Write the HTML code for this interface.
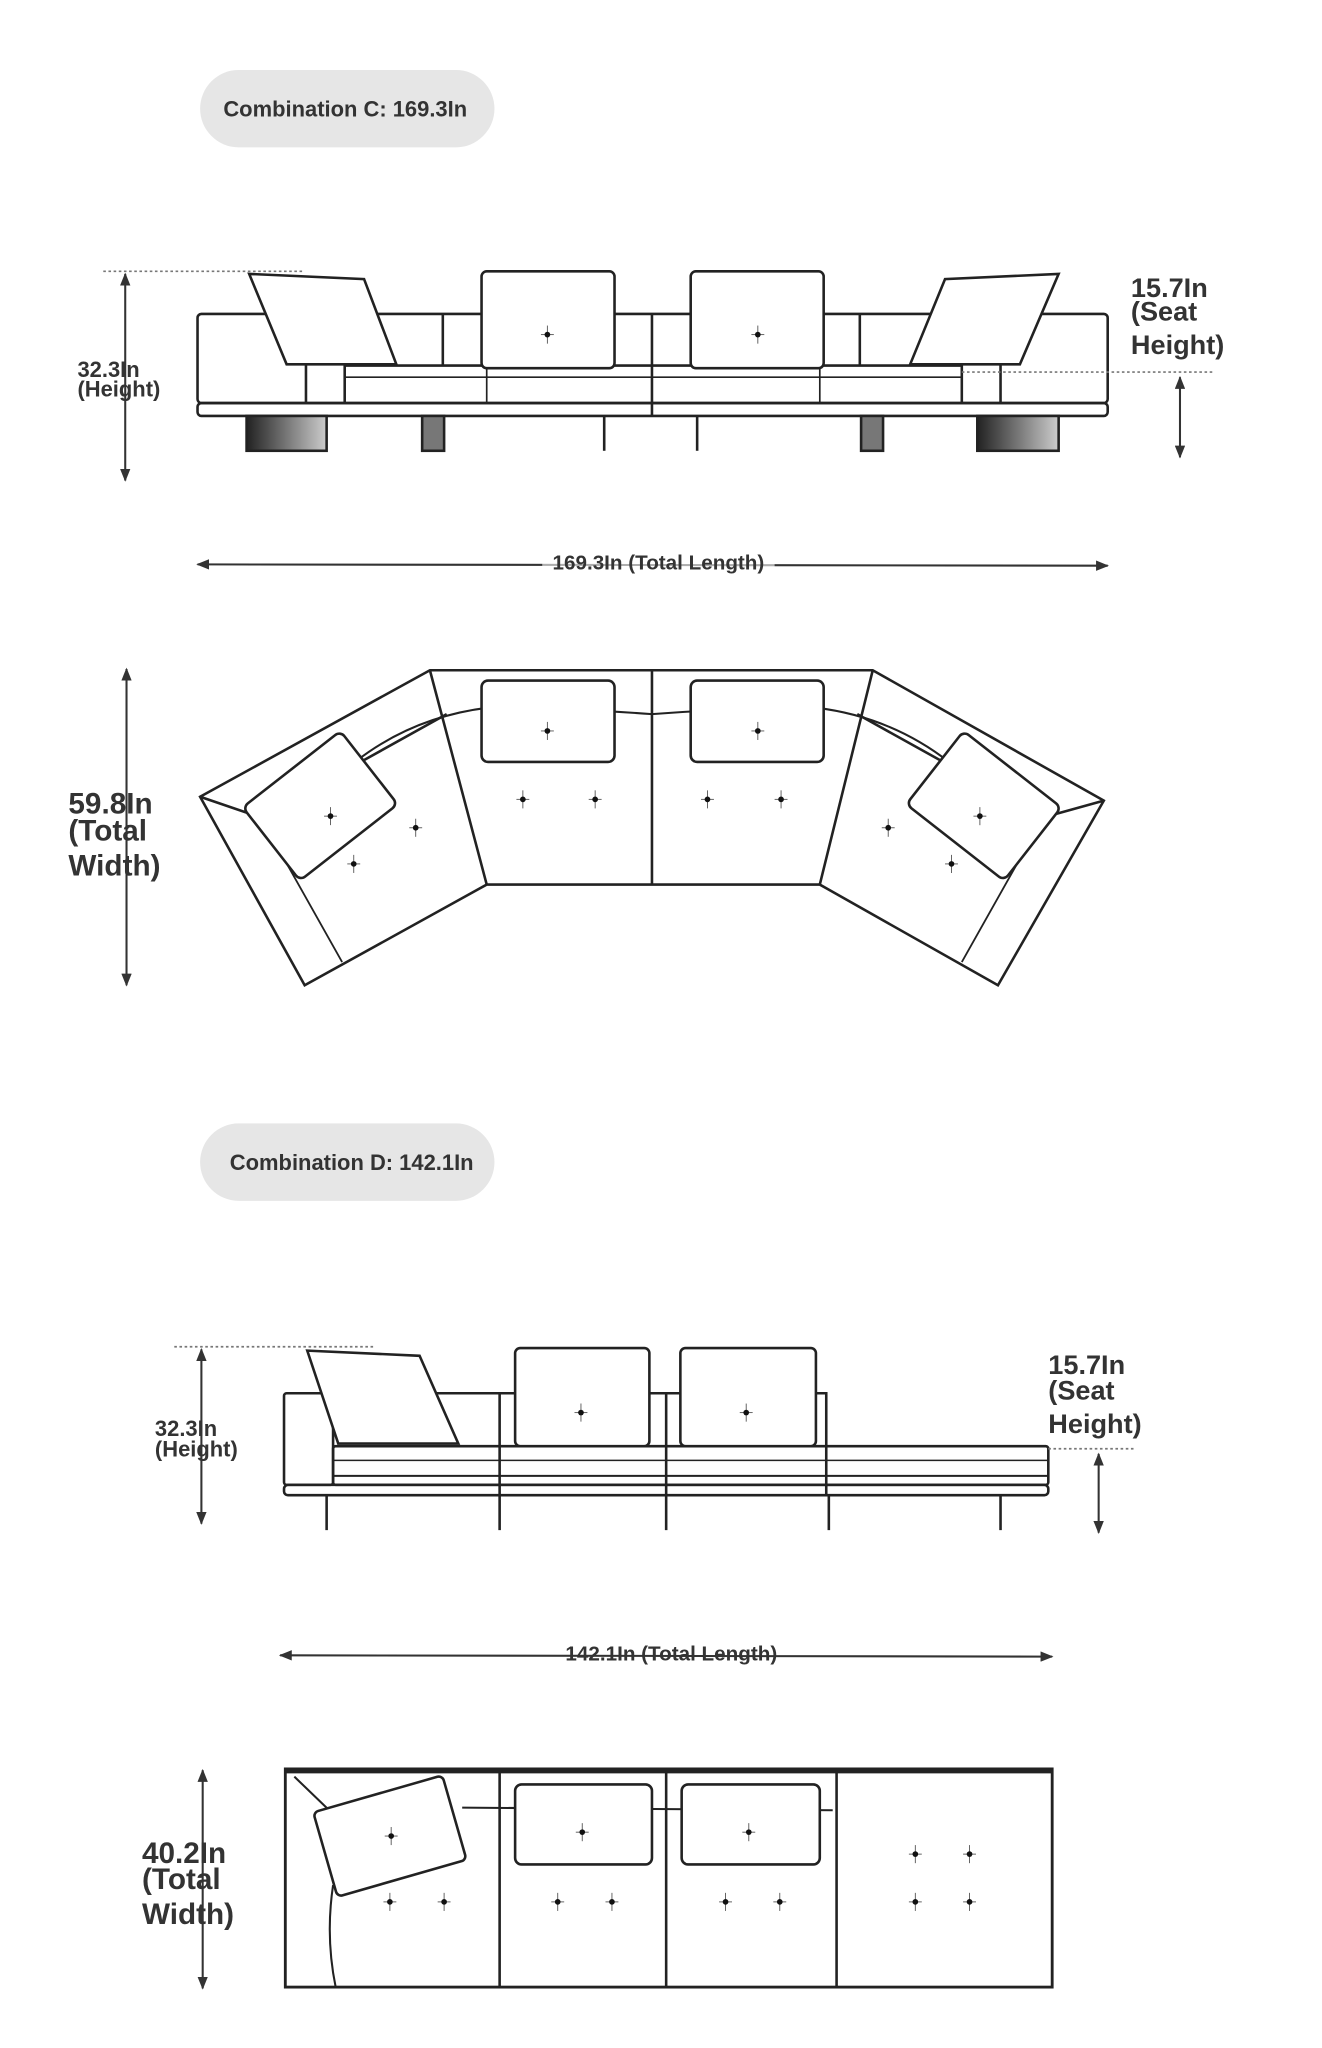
<!DOCTYPE html>
<html><head><meta charset="utf-8"><style>
html,body{margin:0;padding:0;background:#fff;}
svg{display:block;}
text{font-family:"Liberation Sans",sans-serif;font-weight:bold;fill:#333;}
</style></head><body>
<svg width="1322" height="2048" viewBox="0 0 1024 1586" xmlns="http://www.w3.org/2000/svg">
<defs>
<marker id="ar" markerWidth="10" markerHeight="8" refX="9" refY="4" orient="auto" markerUnits="userSpaceOnUse"><path d="M0,0 L10,4 L0,8 Z" fill="#333"/></marker>
<marker id="al" markerWidth="10" markerHeight="8" refX="1" refY="4" orient="auto" markerUnits="userSpaceOnUse"><path d="M10,0 L0,4 L10,8 Z" fill="#333"/></marker>
<linearGradient id="lg" x1="0" x2="1" y1="0" y2="0"><stop offset="0" stop-color="#222"/><stop offset="1" stop-color="#ccc"/></linearGradient>
<g id="tuft"><line x1="-5" y1="0" x2="5" y2="0" stroke="#555" stroke-width="0.7"/><line x1="0" y1="-7" x2="0" y2="7" stroke="#555" stroke-width="0.7"/><circle r="2.2" fill="#111"/></g>
</defs>
<rect width="1024" height="1586" fill="#fff"/>
<g stroke="#222" fill="none" stroke-width="2">

<rect x="155" y="54" width="228" height="60" rx="30" fill="#e6e6e6" stroke="none"/>
<line x1="80" y1="210" x2="235" y2="210" stroke="#777" stroke-width="1.3" stroke-dasharray="2,2"/>
<line x1="97" y1="212" x2="97" y2="372" stroke="#333" stroke-width="1.6" marker-start="url(#al)" marker-end="url(#ar)"/>
<rect x="153" y="243" width="705" height="69" rx="3"/>
<line x1="237" y1="243" x2="237" y2="312"/><line x1="267" y1="243" x2="267" y2="312"/>
<line x1="745" y1="243" x2="745" y2="312"/><line x1="775" y1="243" x2="775" y2="312"/>
<line x1="343" y1="243" x2="343" y2="283"/><line x1="666" y1="243" x2="666" y2="283"/>
<line x1="505" y1="243" x2="505" y2="322"/>
<line x1="267" y1="283" x2="745" y2="283"/>
<line x1="267" y1="292" x2="745" y2="292" stroke-width="1.3"/>
<line x1="377" y1="283" x2="377" y2="312" stroke-width="1.3"/>
<line x1="635" y1="283" x2="635" y2="312" stroke-width="1.3"/>
<rect x="153" y="312" width="705" height="10" rx="3"/>
<path d="M193,212 L282,216 L307,282 L222,282 Z" fill="#fff"/>
<path d="M820,212 L732,216 L705,282 L790,282 Z" fill="#fff"/>
<rect x="373" y="210" width="103" height="75" rx="4" fill="#fff"/>
<rect x="535" y="210" width="103" height="75" rx="4" fill="#fff"/>
<rect x="191" y="322" width="62" height="27" fill="url(#lg)"/>
<rect x="757" y="322" width="63" height="27" fill="url(#lg)"/>
<rect x="327" y="322" width="17" height="27" fill="#777"/>
<rect x="667" y="322" width="17" height="27" fill="#777"/>
<line x1="468" y1="322" x2="468" y2="349"/><line x1="540" y1="322" x2="540" y2="349"/>
<line x1="745" y1="288" x2="940" y2="288" stroke="#777" stroke-width="1.3" stroke-dasharray="2,2"/>
<line x1="914" y1="292" x2="914" y2="354" stroke="#333" stroke-width="1.6" marker-start="url(#al)" marker-end="url(#ar)"/>
<line x1="153" y1="437" x2="858" y2="438" stroke="#333" stroke-width="1.6" marker-start="url(#al)" marker-end="url(#ar)"/>

<line x1="98" y1="518" x2="98" y2="763" stroke="#333" stroke-width="1.6" marker-start="url(#al)" marker-end="url(#ar)"/>
<path d="M155,617 L333,519 L676,519 L855,620 L773,763 L635,685 L377,685 L236,763 Z"/>
<path d="M333,519 L377,685 M676,519 L635,685 M505,520 L505,685"/>
<path d="M155,617 L202,633 L346,553 M855,620 L808,633 L664,553"/>
<path d="M202,633 L265,745 M808,633 L745,745" stroke-width="1.4"/>
<path d="M275,590 Q320,555 378,548 Q440,548 505,553 Q570,548 632,548 Q690,555 735,590" stroke-width="1.6"/>
<rect x="373" y="527" width="103" height="63" rx="5" fill="#fff"/>
<rect x="535" y="527" width="103" height="63" rx="5" fill="#fff"/>
<g transform="rotate(-38 248 624)"><rect x="200" y="588" width="96" height="72" rx="5" fill="#fff"/></g>
<g transform="rotate(38 762 624)"><rect x="714" y="588" width="96" height="72" rx="5" fill="#fff"/></g>

<rect x="155" y="870" width="228" height="60" rx="30" fill="#e6e6e6" stroke="none"/>
<line x1="135" y1="1043" x2="290" y2="1043" stroke="#777" stroke-width="1.3" stroke-dasharray="2,2"/>
<line x1="156" y1="1045" x2="156" y2="1180" stroke="#333" stroke-width="1.6" marker-start="url(#al)" marker-end="url(#ar)"/>
<rect x="220" y="1079" width="38" height="71" rx="2"/>
<path d="M258,1079 L640,1079 L640,1120 M387,1079 L387,1158 M516,1079 L516,1158 M640,1120 L640,1158"/>
<rect x="258" y="1120" width="554" height="30" rx="2"/>
<line x1="258" y1="1131" x2="812" y2="1131" stroke-width="1.2"/>
<line x1="258" y1="1143" x2="812" y2="1143" stroke-width="1.6"/>
<rect x="220" y="1150" width="592" height="8" rx="3"/>
<path d="M238,1046 L325,1050 L355,1118 L262,1118 Z" fill="#fff"/>
<rect x="399" y="1044" width="104" height="76" rx="4" fill="#fff"/>
<rect x="527" y="1044" width="105" height="76" rx="4" fill="#fff"/>
<path d="M253,1158 V1185 M387,1158 V1185 M516,1158 V1185 M642,1158 V1185 M775,1158 V1185"/>
<line x1="812" y1="1122" x2="880" y2="1122" stroke="#777" stroke-width="1.3" stroke-dasharray="2,2"/>
<line x1="851" y1="1126" x2="851" y2="1187" stroke="#333" stroke-width="1.6" marker-start="url(#al)" marker-end="url(#ar)"/>
<line x1="217" y1="1282" x2="815" y2="1283" stroke="#333" stroke-width="1.6" marker-start="url(#al)" marker-end="url(#ar)"/>

<line x1="157" y1="1371" x2="157" y2="1540" stroke="#333" stroke-width="1.6" marker-start="url(#al)" marker-end="url(#ar)"/>
<rect x="221" y="1370" width="594" height="169" stroke-width="2.2"/>
<line x1="221" y1="1372" x2="815" y2="1372" stroke-width="3"/>
<path d="M387,1370 V1539 M516,1370 V1539 M648,1370 V1539"/>
<path d="M228,1376 L255,1402 M258,1460 Q252,1500 260,1539 M358,1400 L645,1402" stroke-width="1.6"/>
<g transform="rotate(-16 302 1422)"><rect x="250" y="1388" width="104" height="68" rx="4" fill="#fff"/></g>
<rect x="399" y="1382" width="106" height="62" rx="5" fill="#fff"/>
<rect x="528" y="1382" width="107" height="62" rx="5" fill="#fff"/>
</g>

<use href="#tuft" x="424" y="259"/><use href="#tuft" x="587" y="259"/>
<use href="#tuft" x="450" y="1094"/><use href="#tuft" x="578" y="1094"/>
<use href="#tuft" x="424" y="566"/><use href="#tuft" x="587" y="566"/>
<use href="#tuft" x="405" y="619"/><use href="#tuft" x="461" y="619"/>
<use href="#tuft" x="548" y="619"/><use href="#tuft" x="605" y="619"/>
<use href="#tuft" x="256" y="632"/><use href="#tuft" x="322" y="641"/><use href="#tuft" x="274" y="669"/>
<use href="#tuft" x="759" y="632"/><use href="#tuft" x="688" y="641"/><use href="#tuft" x="737" y="669"/>
<use href="#tuft" x="451" y="1419"/><use href="#tuft" x="580" y="1419"/><use href="#tuft" x="303" y="1422"/>
<use href="#tuft" x="302" y="1473"/><use href="#tuft" x="344" y="1473"/>
<use href="#tuft" x="432" y="1473"/><use href="#tuft" x="474" y="1473"/>
<use href="#tuft" x="562" y="1473"/><use href="#tuft" x="604" y="1473"/>
<use href="#tuft" x="709" y="1436"/><use href="#tuft" x="751" y="1436"/>
<use href="#tuft" x="709" y="1473"/><use href="#tuft" x="751" y="1473"/>

<text x="173" y="90" font-size="17">Combination C: 169.3In</text>
<text x="60" y="292" font-size="17">32.3In</text>
<text x="60" y="307" font-size="17">(Height)</text>
<text x="876" y="230" font-size="21">15.7In</text>
<text x="876" y="248" font-size="21">(Seat</text>
<text x="876" y="274" font-size="21">Height)</text>
<rect x="420" y="428" width="180" height="18" fill="#fff" opacity="0.6"/>
<text x="510" y="441" font-size="16" text-anchor="middle">169.3In (Total Length)</text>
<text x="53" y="630" font-size="23">59.8In</text>
<text x="53" y="651" font-size="23">(Total</text>
<text x="53" y="678" font-size="23">Width)</text>
<text x="178" y="906" font-size="17">Combination D: 142.1In</text>
<text x="120" y="1112" font-size="17">32.3In</text>
<text x="120" y="1128" font-size="17">(Height)</text>
<text x="812" y="1064" font-size="21">15.7In</text>
<text x="812" y="1084" font-size="21">(Seat</text>
<text x="812" y="1110" font-size="21">Height)</text>
<text x="520" y="1286" font-size="16" text-anchor="middle">142.1In (Total Length)</text>
<text x="110" y="1443" font-size="23">40.2In</text>
<text x="110" y="1463" font-size="23">(Total</text>
<text x="110" y="1490" font-size="23">Width)</text>
</svg>
</body></html>
